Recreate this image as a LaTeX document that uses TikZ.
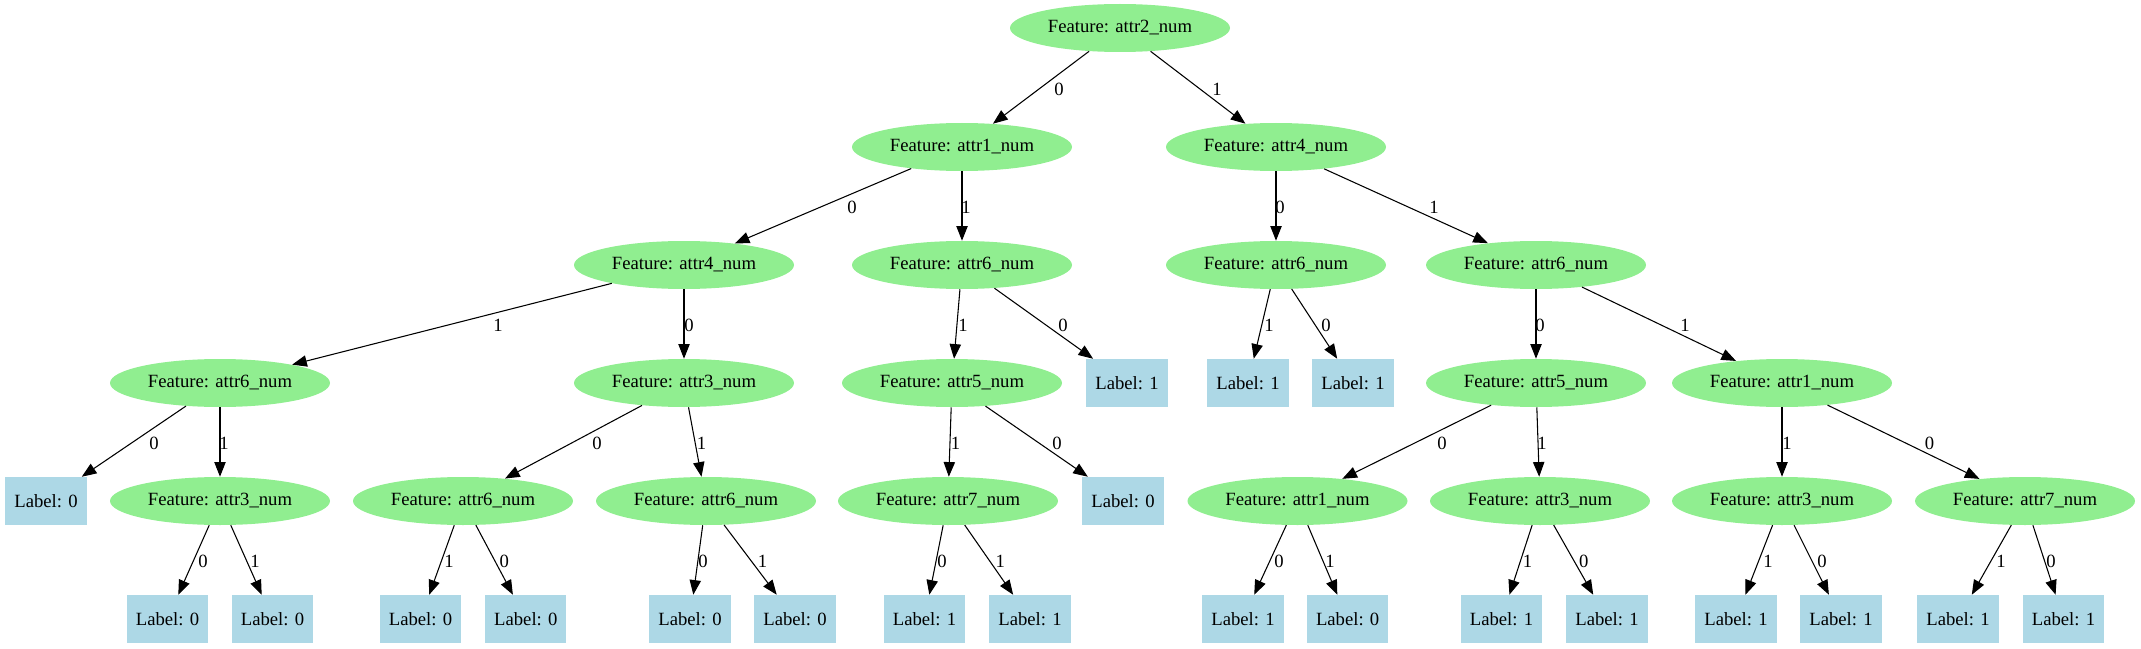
\documentclass[tikz,border=0pt]{standalone}
\usepackage{fontspec}
\setmainfont{Liberation Serif}
\usepackage{tikz}
\usetikzlibrary{arrows.meta,shapes.geometric}
\definecolor{featfill}{HTML}{90EE90}
\definecolor{leaffill}{HTML}{ADD8E6}
\tikzset{
  % ---- tree nodes -----------------------------------------------------
  feat/.style={
    ellipse, fill=featfill, minimum width=165pt, minimum height=36pt,
    inner sep=1pt, font=\fontsize{14}{16}\selectfont},
  leaf/.style={
    rectangle, fill=leaffill, minimum width=61pt, minimum height=36pt,
    inner sep=1pt, font=\fontsize{14}{16}\selectfont},
  % ---- branches -------------------------------------------------------
  branch/.style={
    -{Triangle[length=11pt,width=8.5pt]}, draw=black, line width=0.8pt},
  blabel/.style={font=\fontsize{14}{16}\selectfont, inner sep=0pt},
}

\begin{document}
\begin{tikzpicture}[x=0.75pt, y=-0.75pt]
\useasboundingbox (0,0) rectangle (2141,649);

% ---- rank 0 ----------------------------------------------------------
\node[feat] (root) at (1120,28) {Feature: attr2\_num};

% ---- rank 1 ----------------------------------------------------------
\node[feat] (l) at (962,147)  {Feature: attr1\_num};
\node[feat] (r) at (1276,147) {Feature: attr4\_num};

% ---- rank 2 ----------------------------------------------------------
\node[feat] (ll) at (684,265)  {Feature: attr4\_num};
\node[feat] (lr) at (962,265)  {Feature: attr6\_num};
\node[feat] (rl) at (1276,265) {Feature: attr6\_num};
\node[feat] (rr) at (1536,265) {Feature: attr6\_num};

% ---- rank 3 ----------------------------------------------------------
\node[feat] (lll) at (220,383)  {Feature: attr6\_num};
\node[feat] (llr) at (684,383)  {Feature: attr3\_num};
\node[feat] (lrl) at (952,383)  {Feature: attr5\_num};
\node[leaf] (lrr) at (1127,383) {Label: 1};
\node[leaf] (rll) at (1248,383) {Label: 1};
\node[leaf] (rlr) at (1353,383) {Label: 1};
\node[feat] (rrl) at (1536,383) {Feature: attr5\_num};
\node[feat] (rrr) at (1782,383) {Feature: attr1\_num};

% ---- rank 4 ----------------------------------------------------------
\node[leaf] (llll) at (46,501)     {Label: 0};
\node[feat] (lllr) at (220,501)    {Feature: attr3\_num};
\node[feat] (llrl) at (463,501)    {Feature: attr6\_num};
\node[feat] (llrr) at (706,501)    {Feature: attr6\_num};
\node[feat] (lrll) at (948,501)    {Feature: attr7\_num};
\node[leaf] (lrlr) at (1123,501)   {Label: 0};
\node[feat] (rrll) at (1297.5,501) {Feature: attr1\_num};
\node[feat] (rrlr) at (1540,501)   {Feature: attr3\_num};
\node[feat] (rrrl) at (1782,501)   {Feature: attr3\_num};
\node[feat] (rrrr) at (2025,501)   {Feature: attr7\_num};

% ---- rank 5 ----------------------------------------------------------
\node[leaf] (lllra) at (167.5,619) {Label: 0};
\node[leaf] (lllrb) at (272.5,619) {Label: 0};
\node[leaf] (llrla) at (420.5,619) {Label: 0};
\node[leaf] (llrlb) at (525.8,619) {Label: 0};
\node[leaf] (llrra) at (690,619)   {Label: 0};
\node[leaf] (llrrb) at (795,619)   {Label: 0};
\node[leaf] (lrlla) at (924.5,619) {Label: 1};
\node[leaf] (lrllb) at (1030,619)  {Label: 1};
\node[leaf] (rrlla) at (1243,619)  {Label: 1};
\node[leaf] (rrllb) at (1347.6,619) {Label: 0};
\node[leaf] (rrlra) at (1501.5,619) {Label: 1};
\node[leaf] (rrlrb) at (1607,619)  {Label: 1};
\node[leaf] (rrrla) at (1736,619)  {Label: 1};
\node[leaf] (rrrlb) at (1841,619)  {Label: 1};
\node[leaf] (rrrra) at (1958,619)  {Label: 1};
\node[leaf] (rrrrb) at (2063.5,619) {Label: 1};

% ---- branches 0 -> 1 ---------------------------------------------------
\draw[branch] (root) -- (l) node[blabel] at (1059,89) {0};
\draw[branch] (root) -- (r) node[blabel] at (1217,89) {1};

% ---- branches 1 -> 2 ---------------------------------------------------
\draw[branch] (l) -- (ll) node[blabel] at (852,207)  {0};
\draw[branch] (l) -- (lr) node[blabel] at (966,207)  {1};
\draw[branch] (r) -- (rl) node[blabel] at (1280,207) {0};
\draw[branch] (r) -- (rr) node[blabel] at (1434,207) {1};

% ---- branches 2 -> 3 ---------------------------------------------------
\draw[branch] (ll) -- (lll) node[blabel] at (498,325)  {1};
\draw[branch] (ll) -- (llr) node[blabel] at (689,325)  {0};
\draw[branch] (lr) -- (lrl) node[blabel] at (963,325)  {1};
\draw[branch] (lr) -- (lrr) node[blabel] at (1063,325) {0};
\draw[branch] (rl) -- (rll) node[blabel] at (1269,325) {1};
\draw[branch] (rl) -- (rlr) node[blabel] at (1326,325) {0};
\draw[branch] (rr) -- (rrl) node[blabel] at (1540,325) {0};
\draw[branch] (rr) -- (rrr) node[blabel] at (1685,325) {1};

% ---- branches 3 -> 4 ---------------------------------------------------
\draw[branch] (lll) -- (llll) node[blabel] at (154,443)   {0};
\draw[branch] (lll) -- (lllr) node[blabel] at (224,443)   {1};
\draw[branch] (llr) -- (llrl) node[blabel] at (597,443)   {0};
\draw[branch] (llr) -- (llrr) node[blabel] at (701.5,443) {1};
\draw[branch] (lrl) -- (lrll) node[blabel] at (955.5,443) {1};
\draw[branch] (lrl) -- (lrlr) node[blabel] at (1057,443)  {0};
\draw[branch] (rrl) -- (rrll) node[blabel] at (1442,443)  {0};
\draw[branch] (rrl) -- (rrlr) node[blabel] at (1542,443)  {1};
\draw[branch] (rrr) -- (rrrl) node[blabel] at (1787,443)  {1};
\draw[branch] (rrr) -- (rrrr) node[blabel] at (1929.5,443) {0};

% ---- branches 4 -> 5 ---------------------------------------------------
\draw[branch] (lllr) -- (lllra) node[blabel] at (203,561)    {0};
\draw[branch] (lllr) -- (lllrb) node[blabel] at (255,561)    {1};
\draw[branch] (llrl) -- (llrla) node[blabel] at (449,561)    {1};
\draw[branch] (llrl) -- (llrlb) node[blabel] at (504.4,561)  {0};
\draw[branch] (llrr) -- (llrra) node[blabel] at (703,561)    {0};
\draw[branch] (llrr) -- (llrrb) node[blabel] at (762.5,561)  {1};
\draw[branch] (lrll) -- (lrlla) node[blabel] at (942,561)    {0};
\draw[branch] (lrll) -- (lrllb) node[blabel] at (1000.4,561) {1};
\draw[branch] (rrll) -- (rrlla) node[blabel] at (1279,561)   {0};
\draw[branch] (rrll) -- (rrllb) node[blabel] at (1330,561)   {1};
\draw[branch] (rrlr) -- (rrlra) node[blabel] at (1527.5,561) {1};
\draw[branch] (rrlr) -- (rrlrb) node[blabel] at (1583.7,561) {0};
\draw[branch] (rrrl) -- (rrrla) node[blabel] at (1768,561)   {1};
\draw[branch] (rrrl) -- (rrrlb) node[blabel] at (1822,561)   {0};
\draw[branch] (rrrr) -- (rrrra) node[blabel] at (2001,561)   {1};
\draw[branch] (rrrr) -- (rrrrb) node[blabel] at (2051,561)   {0};

\end{tikzpicture}
\end{document}
